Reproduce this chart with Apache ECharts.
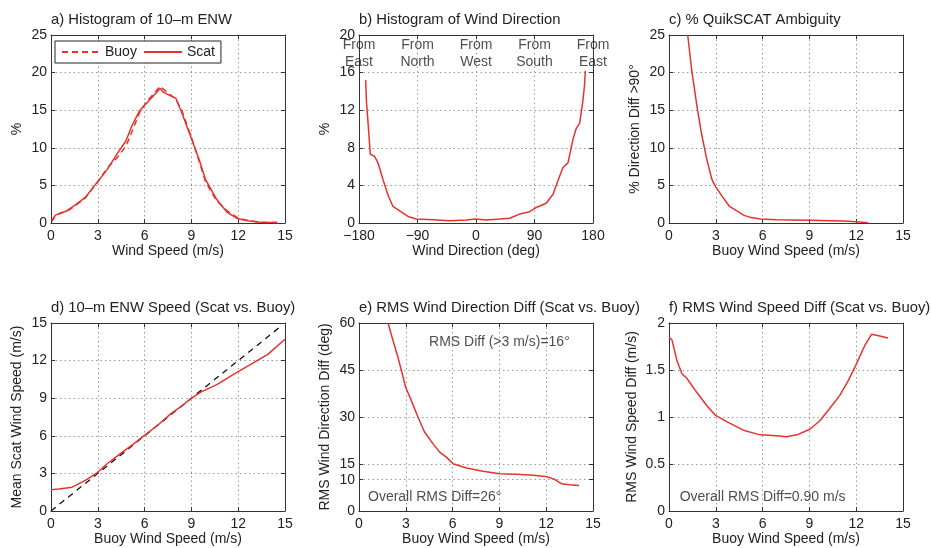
<!DOCTYPE html>
<html>
<head>
<meta charset="utf-8">
<script src="https://cdn.jsdelivr.net/npm/echarts@6/dist/echarts.min.js"></script>
<style>html,body{margin:0;padding:0;background:#fff}#c{width:931px;height:548px}</style>
</head>
<body>
<div id="c"></div>
<script>
// ---- data ----
const speedTicks = [0, 3, 6, 9, 12, 15];
const dirTicks = [-180, -90, 0, 90, 180];
const rmsDirTicks = [0, 10, 15, 30, 45, 60];

// a) histogram of 10-m ENW
const histX = [0.06,0.28,0.6,1.0,1.56,2.2,2.95,3.6,4.2,4.8,5.2,5.7,6.2,6.6,7.0,7.2,7.56,8.0,8.4,8.95,9.5,9.9,10.6,11.3,11.95,12.6,13.4,14.5];
const histScat = [0.3,1.05,1.3,1.6,2.4,3.4,5.4,7.1,9.1,10.9,13.0,15.0,16.1,17.0,17.9,17.4,17.0,16.6,14.6,11.5,8.4,5.8,3.2,1.4,0.6,0.3,0.1,0.05];
const histBuoy = [0.2,1.0,1.3,1.55,2.3,3.35,5.3,7.3,8.6,10.2,12.2,14.8,16.3,17.2,18.2,17.8,17.2,16.5,14.9,11.7,8.2,5.5,3.0,1.6,0.7,0.35,0.1,0.05];

// b) histogram of wind direction
const dirX = [-169.7,-168.7,-166,-162.6,-156,-150.8,-143,-135,-127.7,-117.4,-104.6,-91.8,-66,-40.5,-14.9,-1,16,36.4,51.8,67,82.6,92.8,108,118.5,126,133.8,141.5,149.2,154.4,159.5,164.6,167,168.2];
const dirY = [15.2,13.1,10.6,7.3,7.1,6.4,4.6,2.9,1.76,1.3,0.7,0.42,0.35,0.25,0.32,0.42,0.32,0.42,0.5,0.95,1.2,1.65,2.1,3.06,4.5,5.9,6.4,8.9,10.1,10.6,13.1,14.7,16.2];
const dirNames = ['From\nEast','From\nNorth','From\nWest','From\nSouth','From\nEast'];
const dirNameX = [-180, -90, 0, 90, 180];

// c) % QuikSCAT ambiguity
const ambX = [1.2,1.47,1.83,2.1,2.43,2.75,2.96,3.39,3.88,4.35,4.77,5.2,5.84,6.9,9.03,11.17,12.0,12.76];
const ambY = [25,20.1,15.0,11.7,8.4,5.8,4.9,3.6,2.2,1.6,1.05,0.75,0.53,0.44,0.35,0.26,0.18,0.04];

// d) 10-m ENW speed scat vs buoy
const spdX = [0,0.5,1.35,2.2,2.95,3.6,4.45,5.3,5.95,6.8,7.67,8.3,8.95,9.6,10.66,11.7,12.8,13.9,15];
const spdY = [1.7,1.75,1.9,2.44,3.05,3.77,4.57,5.36,6.0,6.8,7.75,8.3,8.95,9.48,10.1,10.9,11.7,12.5,13.7];
const refX = [0, 14.6];
const refY = [0, 14.6];

// e) RMS wind direction diff
const rmsDirX = [1.86,2.18,2.5,2.78,2.99,3.35,3.78,4.2,4.74,5.17,5.6,6.03,6.88,7.95,9.0,10.1,11.15,12.0,12.54,12.97,13.5,14.1];
const rmsDirY = [60,54.4,49,43.7,39.5,35.3,30,25.2,21.5,18.8,17.2,15.1,13.7,12.7,11.9,11.7,11.4,11.0,10.1,8.7,8.4,8.1];

// f) RMS wind speed diff
const rmsSpdX = [0,0.19,0.51,0.83,1.15,1.79,2.43,2.96,3.7,4.77,5.84,6.9,7.54,8.2,9.03,9.67,10.3,10.95,11.5,12.0,12.55,12.98,13.3,14.04];
const rmsSpdY = [1.85,1.82,1.6,1.46,1.41,1.26,1.12,1.02,0.95,0.86,0.81,0.80,0.79,0.81,0.87,0.96,1.09,1.23,1.39,1.56,1.76,1.88,1.87,1.84];

// annotations
const noteE1 = {x: 9, y: 54, text: 'RMS Diff (>3 m/s)=16°'};
const noteE2 = {x: 4.85, y: 4.4, text: 'Overall RMS Diff=26°'};
const noteF = {x: 6, y: 0.15, text: 'Overall RMS Diff=0.90 m/s'};

// ---- build ----
const zip = (a, b) => a.map((v, i) => [v, b[i]]);
const RED = '#e8322f';
const TXT = '#222';
const FONT = 'Liberation Sans, Arial, Helvetica, sans-serif';
const FS = 14;

const panels = [
  {grid:{left:51,top:35,width:234,height:188}, title:'a) Histogram of 10–m ENW',
   x:{min:0,max:15,interval:3,name:'Wind Speed (m/s)'}, y:{min:0,max:25,interval:5,name:'%'}},
  {grid:{left:359,top:35,width:234,height:188}, title:'b) Histogram of Wind Direction',
   x:{min:-180,max:180,interval:90,name:'Wind Direction (deg)'}, y:{min:0,max:20,interval:4,name:'%'}},
  {grid:{left:669,top:35,width:234,height:188}, title:'c) % QuikSCAT Ambiguity',
   x:{min:0,max:15,interval:3,name:'Buoy Wind Speed (m/s)'}, y:{min:0,max:25,interval:5,name:'% Direction Diff >90°'}},
  {grid:{left:51,top:323,width:234,height:188}, title:'d) 10–m ENW Speed (Scat vs. Buoy)',
   x:{min:0,max:15,interval:3,name:'Buoy Wind Speed (m/s)'}, y:{min:0,max:15,interval:3,name:'Mean Scat Wind Speed (m/s)'}},
  {grid:{left:359,top:323,width:234,height:188}, title:'e) RMS Wind Direction Diff (Scat vs. Buoy)',
   x:{min:0,max:15,interval:3,name:'Buoy Wind Speed (m/s)'}, y:{min:0,max:60,custom:rmsDirTicks,name:'RMS Wind Direction Diff (deg)'}},
  {grid:{left:669,top:323,width:234,height:188}, title:'f) RMS Wind Speed Diff (Scat vs. Buoy)',
   x:{min:0,max:15,interval:3,name:'Buoy Wind Speed (m/s)'}, y:{min:0,max:2,interval:0.5,name:'RMS Wind Speed Diff (m/s)'}}
];

const grids = [], xAxes = [], yAxes = [], titles = [];
const axisLine = {show:true, onZero:false, lineStyle:{color:'#333', width:1}};
const tick = (custom) => { const t = {show:true, inside:true, length:4, lineStyle:{color:'#333', width:1}}; if (custom) t.customValues = custom; return t; };
const split = {show:true, lineStyle:{color:'#9a9a9a', width:1, type:[1.5,3]}};
const fmt = v => String(v).replace('-', '−');

panels.forEach((p, i) => {
  grids.push(Object.assign({show:false, containLabel:false}, p.grid));
  titles.push({text:p.title, left:p.grid.left, top:p.grid.top - 23, padding:0,
    textStyle:{fontSize:14.8, fontWeight:'normal', color:TXT, fontFamily:FONT}});
  const xb = {type:'value', gridIndex:i, position:'bottom', min:p.x.min, max:p.x.max, interval:p.x.interval,
    axisLine, axisTick:tick(), splitLine:split,
    axisLabel:{show:true, margin:6, color:TXT, fontSize:FS, fontFamily:FONT, formatter:fmt},
    name:p.x.name, nameLocation:'middle', nameGap:21, nameTextStyle:{color:TXT, fontSize:FS, fontFamily:FONT}};
  const xt = {type:'value', gridIndex:i, position:'top', min:p.x.min, max:p.x.max, interval:p.x.interval,
    axisLine, axisTick:tick(), splitLine:{show:false}, axisLabel:{show:false}};
  const yl = {type:'value', gridIndex:i, position:'left', min:p.y.min, max:p.y.max,
    axisLine, axisTick:tick(p.y.custom), splitLine:split,
    axisLabel:{show:true, margin:4, color:TXT, fontSize:FS, fontFamily:FONT, formatter:fmt},
    name:p.y.name, nameLocation:'middle', nameGap:i === 5 ? 30 : 27, nameTextStyle:{color:TXT, fontSize:FS, fontFamily:FONT}};
  const yr = {type:'value', gridIndex:i, position:'right', min:p.y.min, max:p.y.max,
    axisLine, axisTick:tick(p.y.custom), splitLine:{show:false}, axisLabel:{show:false}};
  if (p.y.custom) { yl.axisLabel.customValues = p.y.custom; yl.splitLine = Object.assign({}, split); }
  else { yl.interval = p.y.interval; yr.interval = p.y.interval; }
  xAxes.push(xb, xt); yAxes.push(yl, yr);
});

const lineS = (name, i, data, extra) => Object.assign({
  name, type:'line', xAxisIndex:2*i, yAxisIndex:2*i, data, symbol:'none', showSymbol:false,
  lineStyle:{color:RED, width:1.5}, itemStyle:{color:RED}, clip:true, silent:true, z:5
}, extra || {});

const note = (i, n, name) => ({
  name, type:'scatter', xAxisIndex:2*i, yAxisIndex:2*i, data:[[n.x, n.y]], symbolSize:1,
  itemStyle:{color:'rgba(0,0,0,0)'}, silent:true, z:10,
  label:{show:true, position:'inside', formatter:n.text, color:TXT, fontSize:FS, fontFamily:FONT, lineHeight:17}
});

const series = [
  lineS('Buoy', 0, zip(histX, histBuoy), {lineStyle:{color:RED, width:1.5, type:[6,4]}}),
  lineS('Scat', 0, zip(histX, histScat)),
  lineS('dir', 1, zip(dirX, dirY)),
  lineS('amb', 2, zip(ambX, ambY)),
  lineS('ref', 3, zip(refX, refY), {lineStyle:{color:'#111', width:1.3, type:[6,5]}, itemStyle:{color:'#111'}}),
  lineS('spd', 3, zip(spdX, spdY)),
  lineS('rmsdir', 4, zip(rmsDirX, rmsDirY)),
  lineS('rmsspd', 5, zip(rmsSpdX, rmsSpdY)),
  note(4, noteE1, 'n1'), note(4, noteE2, 'n2'), note(5, noteF, 'n3')
];
dirNames.forEach((t, k) => series.push(note(1, {x:dirNameX[k], y:18, text:t}, 'dn' + k)));

const chart = echarts.init(document.getElementById('c'), null, {renderer:'canvas'});
chart.setOption({
  animation:false,
  backgroundColor:'#fff',
  textStyle:{fontFamily:FONT},
  title:titles,
  legend:{data:['Buoy','Scat'], left:55, top:41, orient:'horizontal', itemWidth:38, itemHeight:12, itemGap:6,
    borderColor:'#222', borderWidth:1, borderRadius:0, padding:[4,6,4,6], backgroundColor:'#fff',
    itemStyle:{opacity:0},
    textStyle:{color:TXT, fontSize:FS, fontFamily:FONT}, selectedMode:false, z:20},
  grid:grids, xAxis:xAxes, yAxis:yAxes, series
});
</script>
</body>
</html>
